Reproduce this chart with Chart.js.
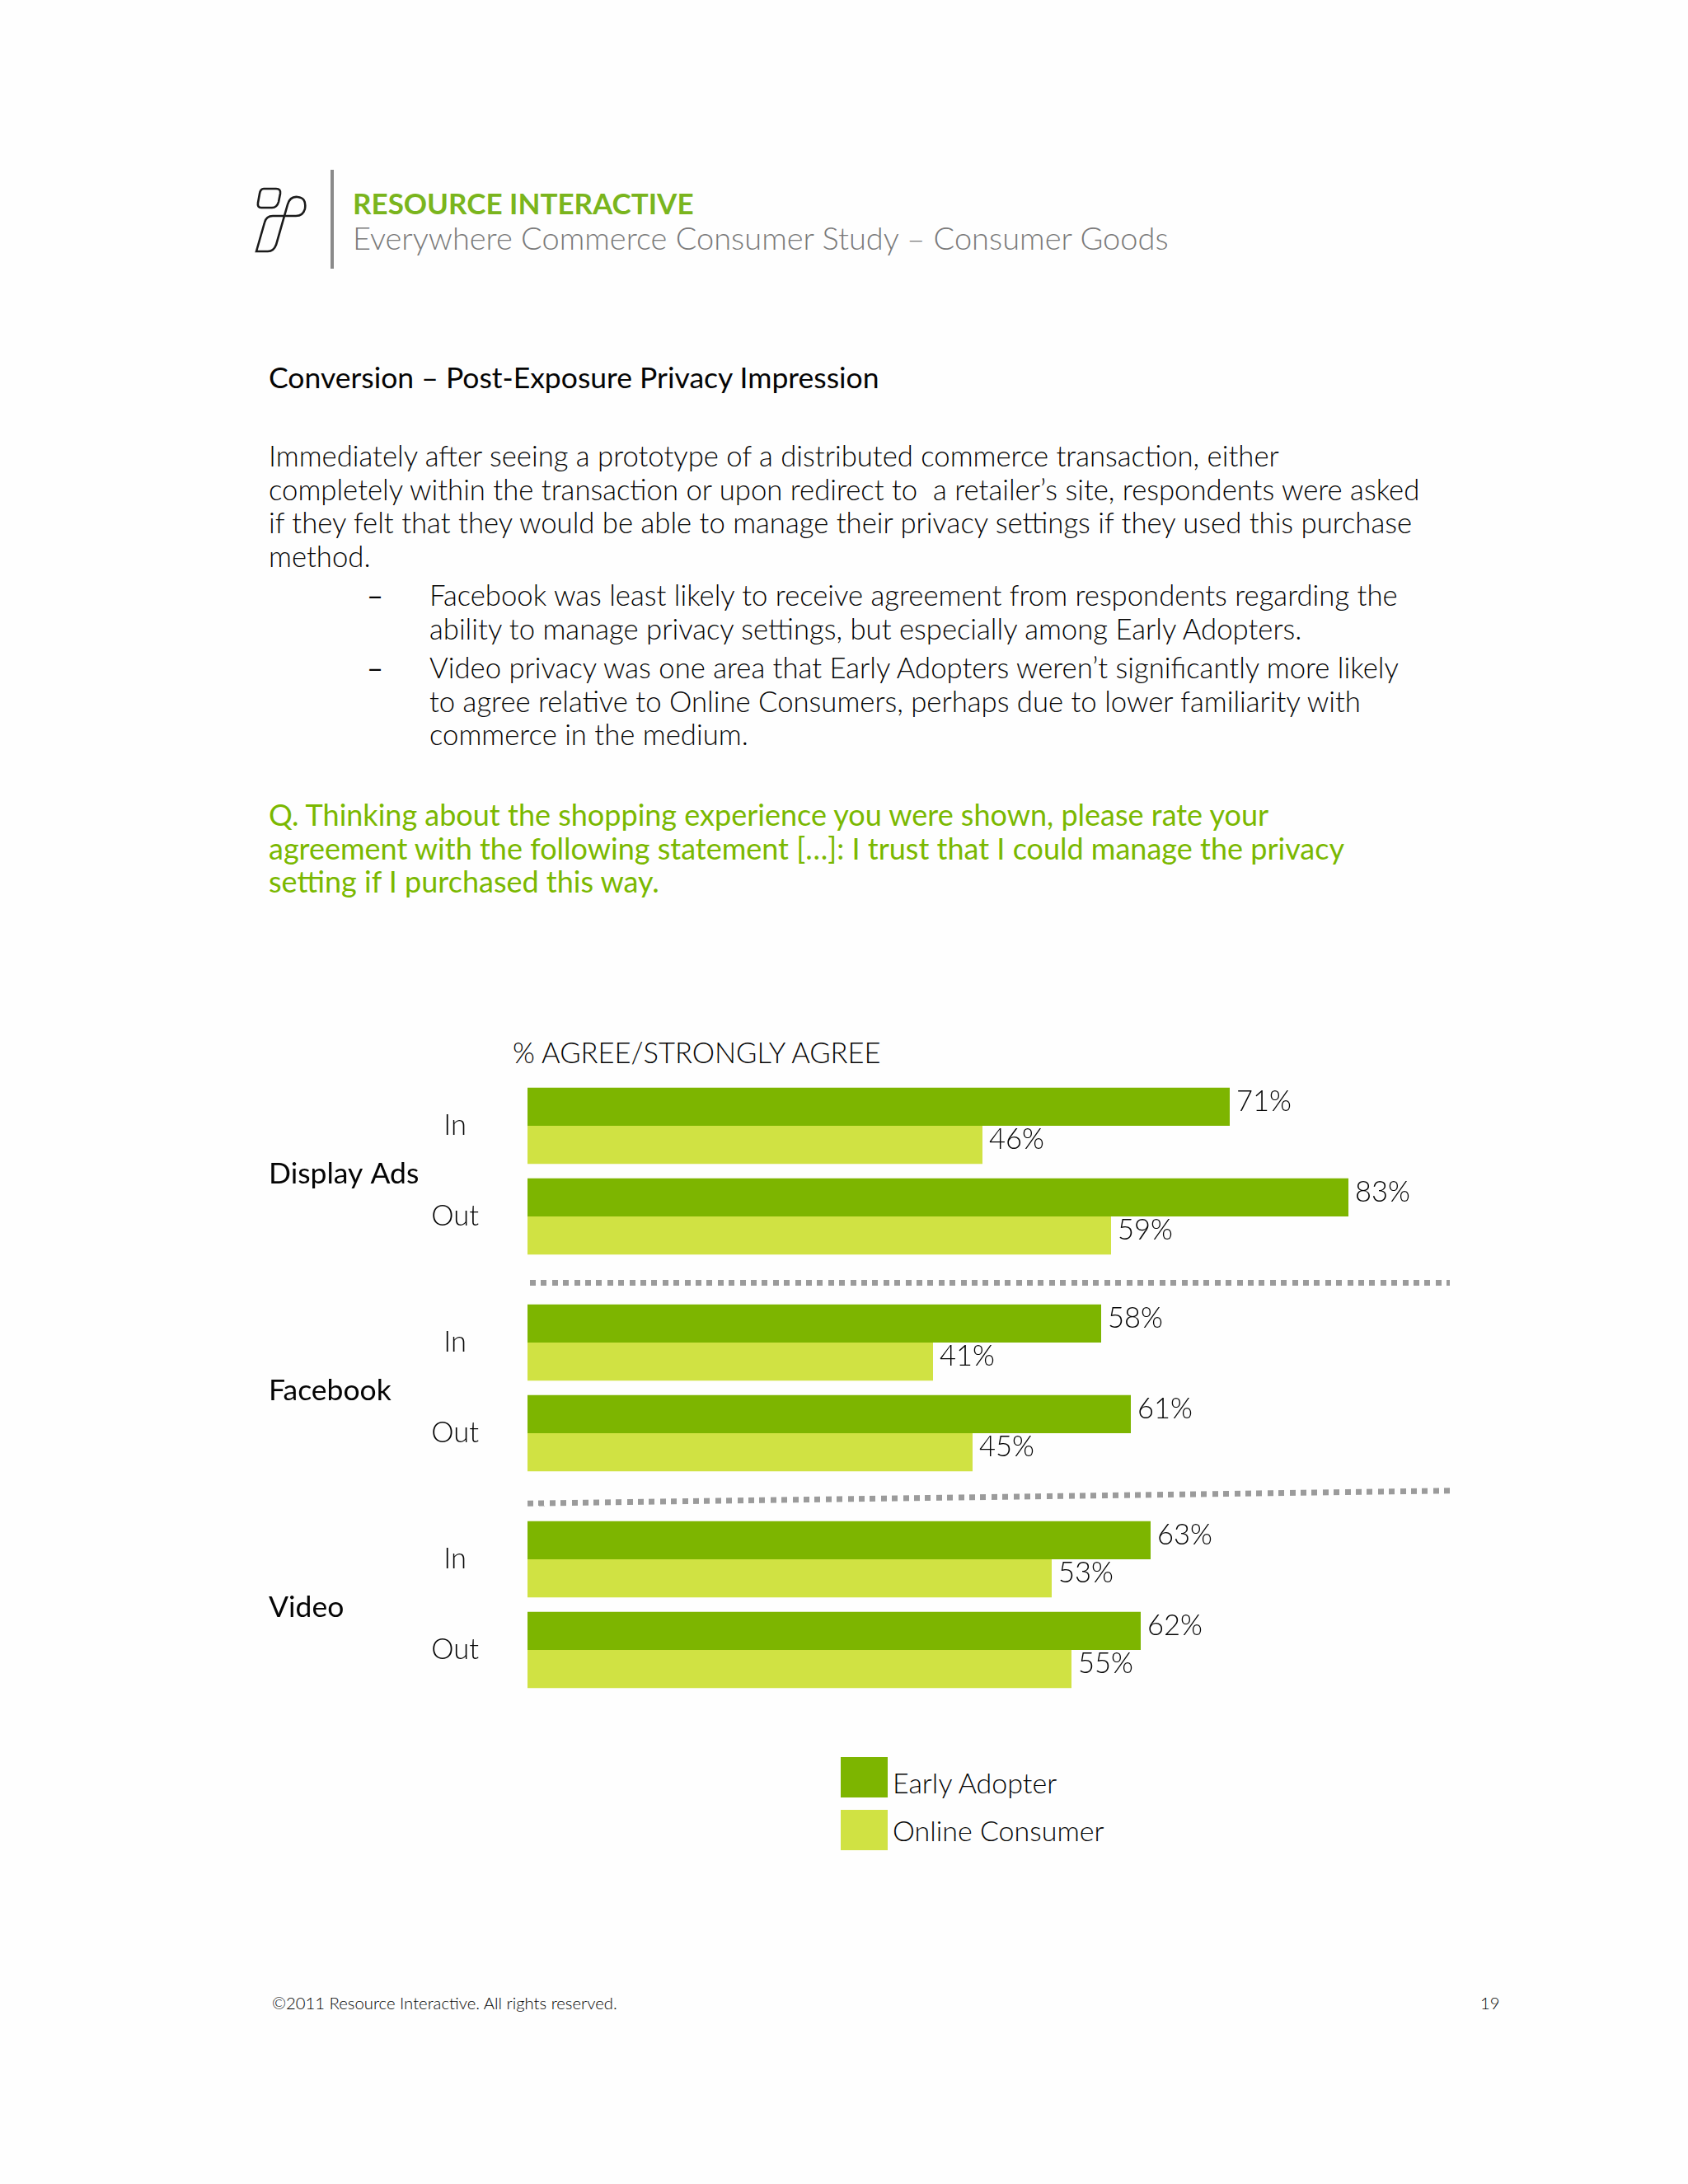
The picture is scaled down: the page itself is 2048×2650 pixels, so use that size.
<!DOCTYPE html>
<html>
<head>
<meta charset="utf-8">
<script src="https://cdn.jsdelivr.net/npm/chart.js@4/dist/chart.umd.min.js"></script>
<style>
  html, body { margin: 0; padding: 0; background: #fefefe; }
  #page { position: relative; width: 2048px; height: 2650px; font-family: Lato, "Open Sans", sans-serif; color: #050505; }
  .abs { position: absolute; white-space: nowrap; }
  .chartbox { position: absolute; left: 300px; width: 1540px; height: 220px; }
  .chartbox canvas { display: block; }
  .dots { position: absolute; height: 7px;
          background: repeating-linear-gradient(90deg, #9b9b9b 0 7px, transparent 7px 13.4px); }
  .legsq { position: absolute; width: 57px; height: 49px; }
  .body { font-size: 34.7px; line-height: 40.7px; font-weight: 300; }
</style>
</head>
<body>
<div id="page">
  <!-- header -->
  <svg class="abs" style="left:295px;top:215px" width="100" height="100" viewBox="0 0 100 100">
    <path d="M25 14 L40 14 Q46 14 45 20 L43 30 Q41 37 35 37 L22 37 Q17 37 18 31 L20 20 Q21 14 25 14 Z" fill="none" stroke="#1a1a1a" stroke-width="2.6"/>
    <path d="M16 90 L26 55 Q28 47 36 47 L64 47 Q73 47 75 38 Q77 25 66 24 Q57 23 54 33 L40 82 Q37 90 30 90 Z" fill="none" stroke="#1a1a1a" stroke-width="2.6"/>
  </svg>
  <div class="abs" style="left:401px;top:206px;width:4px;height:120px;background:#8a8a8a"></div>
  <div class="abs" style="left:428px;top:225px;font-size:35px;color:#7ab51d;font-weight:700">RESOURCE INTERACTIVE</div>
  <div class="abs" style="left:428px;top:265px;font-size:38px;color:#7a7a7a;font-weight:300">Everywhere Commerce Consumer Study – Consumer Goods</div>

  <div class="abs" style="left:326px;top:436px;font-size:35.5px">Conversion – Post-Exposure Privacy Impression</div>

  <div class="abs body" style="left:326px;top:533px">
    Immediately after seeing a prototype of a distributed commerce transaction, either<br>
    completely within the transaction or upon redirect to &nbsp;a retailer’s site, respondents were asked<br>
    if they felt that they would be able to manage their privacy settings if they used this purchase<br>
    method.
  </div>
  <div class="abs body" style="left:445px;top:702px;font-weight:400">–</div>
  <div class="abs body" style="left:521px;top:702px">
    Facebook was least likely to receive agreement from respondents regarding the<br>
    ability to manage privacy settings, but especially among Early Adopters.
  </div>
  <div class="abs body" style="left:445px;top:790px;font-weight:400">–</div>
  <div class="abs body" style="left:521px;top:790px">
    Video privacy was one area that Early Adopters weren’t significantly more likely<br>
    to agree relative to Online Consumers, perhaps due to lower familiarity with<br>
    commerce in the medium.
  </div>

  <div class="abs" style="left:326px;top:968px;font-size:36px;line-height:40.5px;color:#7ab800">
    Q. Thinking about the shopping experience you were shown, please rate your<br>
    agreement with the following statement […]: I trust that I could manage the privacy<br>
    setting if I purchased this way.
  </div>

  <!-- chart -->
  <div class="abs" style="left:622px;top:1256px;font-size:34.5px;font-weight:300">% AGREE/STRONGLY AGREE</div>
  <div class="chartbox" style="top:1311px"><canvas id="c0" width="1540" height="220"></canvas></div>
  <div class="dots" style="left:643px;top:1553px;width:1116px"></div>
  <div class="chartbox" style="top:1574px"><canvas id="c1" width="1540" height="220"></canvas></div>
  <div class="dots" style="left:640px;top:1813px;width:1120px;transform:rotate(-0.8deg)"></div>
  <div class="chartbox" style="top:1837px"><canvas id="c2" width="1540" height="220"></canvas></div>

  <!-- legend -->
  <div class="legsq" id="lg0" style="left:1020px;top:2132px"></div>
  <div class="abs" style="left:1083px;top:2142px;font-size:34px;font-weight:300">Early Adopter</div>
  <div class="legsq" id="lg1" style="left:1020px;top:2196px"></div>
  <div class="abs" style="left:1083px;top:2200px;font-size:34px;font-weight:300">Online Consumer</div>

  <div class="abs" style="left:330px;top:2418px;font-size:20.3px;font-weight:300">©2011 Resource Interactive. All rights reserved.</div>
  <div class="abs" style="left:1796px;top:2418px;font-size:20.3px;font-weight:300">19</div>
</div>

<script>
// data
const groups = ['Display Ads', 'Facebook', 'Video'];
const rows = ['In', 'Out'];
const seriesNames = ['Early Adopter', 'Online Consumer'];
const earlyAdopter = [[71, 83], [58, 61], [63, 62]];
const onlineConsumer = [[46, 59], [41, 45], [53, 55]];
const seriesColors = ['#7db500', '#d0e243'];

document.getElementById('lg0').style.background = seriesColors[0];
document.getElementById('lg1').style.background = seriesColors[1];

// writes "71%" etc just right of each bar, plus the group name on the left
const barLabels = {
    id: 'barLabels',
    afterDatasetsDraw(chart, args, opts) {
        const ctx = chart.ctx;
        ctx.save();
        ctx.font = '300 34.5px Lato';
        ctx.fillStyle = '#050505';
        ctx.textBaseline = 'middle';
        ctx.textAlign = 'left';
        chart.data.datasets.forEach((ds, i) => {
            chart.getDatasetMeta(i).data.forEach((bar, j) => {
                ctx.fillText(ds.data[j] + '%', bar.x + 8, bar.y - 6);
            });
        });
        const area = chart.chartArea;
        ctx.font = '400 35.5px Lato';
        ctx.fillStyle = '#050505';
        ctx.fillText(opts.group, 26, (area.top + area.bottom) / 2 + 4);
        ctx.restore();
    }
};

function makeChart(id, g) {
    return new Chart(document.getElementById(id).getContext('2d'), {
        type: 'bar',
        data: {
            labels: rows,
            datasets: [{
                label: seriesNames[0],
                data: earlyAdopter[g],
                backgroundColor: seriesColors[0]
            }, {
                label: seriesNames[1],
                data: onlineConsumer[g],
                backgroundColor: seriesColors[1]
            }]
        },
        options: {
            indexAxis: 'y',
            responsive: false,
            animation: false,
            devicePixelRatio: 1,
            layout: { padding: 0 },
            datasets: {
                bar: { categoryPercentage: 0.84, barPercentage: 1.0 }
            },
            scales: {
                x: { display: false, min: 0, max: 100 },
                y: {
                    grid: { display: false },
                    border: { display: false },
                    // fixed axis width; the tick padding would otherwise also eat top/bottom space
                    afterFit(scale) {
                        scale.width = 340;
                        scale.paddingTop = 0;
                        scale.paddingBottom = 0;
                    },
                    ticks: {
                        crossAlign: 'center',
                        padding: 51,
                        color: '#050505',
                        font: { family: 'Lato', size: 34.5, weight: '300' }
                    }
                }
            },
            plugins: {
                legend: { display: false },
                tooltip: { enabled: false },
                barLabels: { group: groups[g] }
            }
        },
        plugins: [barLabels]
    });
}

groups.forEach((_, g) => makeChart('c' + g, g));
</script>
</body>
</html>
